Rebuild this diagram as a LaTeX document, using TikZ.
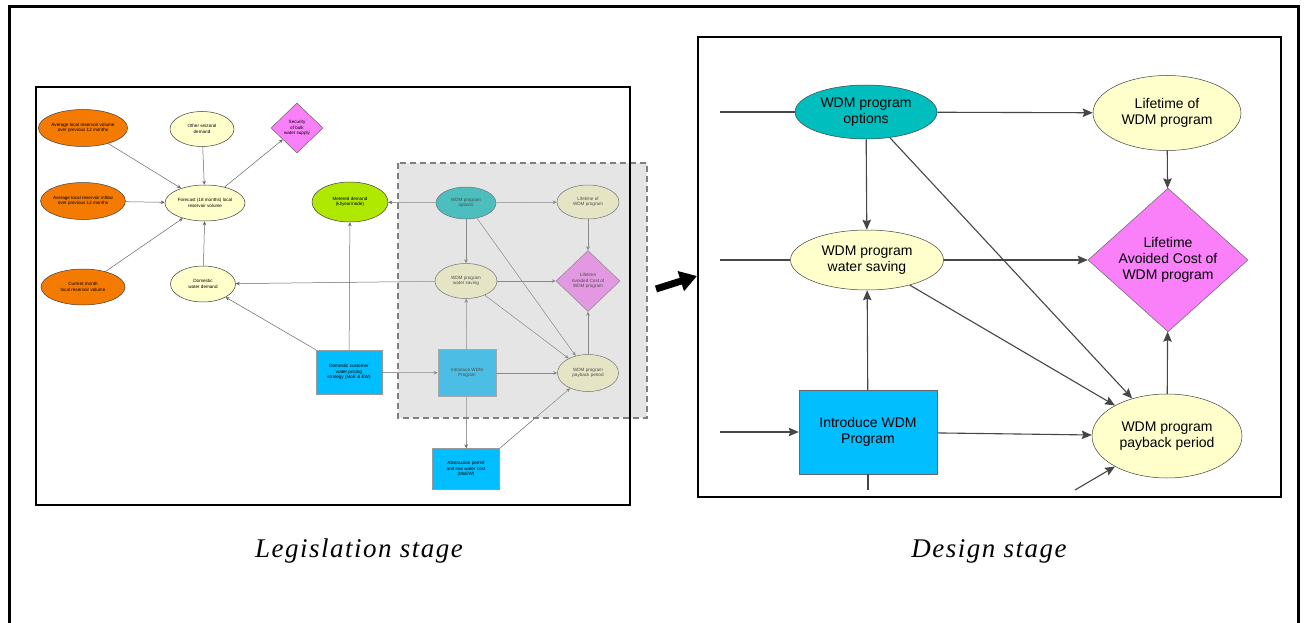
\documentclass[tikz,border=0pt]{standalone}
\usepackage{fontspec}
\setmainfont{Liberation Sans}
\newfontfamily\capfont[LetterSpace=5.5]{Liberation Serif}
\usetikzlibrary{shapes.geometric,arrows.meta}
\definecolor{cteal}{RGB}{0,190,190}
\definecolor{cyel}{RGB}{255,255,204}
\definecolor{corng}{RGB}{245,122,0}
\definecolor{cmag}{RGB}{250,128,250}
\definecolor{cgrn}{RGB}{175,232,0}
\definecolor{cblue}{RGB}{0,190,255}
\definecolor{cline}{RGB}{70,70,70}
\begin{document}
\begin{tikzpicture}[x=1pt,y=-1pt,
  tiny/.style={font=\fontsize{4.6}{5.4}\selectfont, align=center, inner sep=0pt},
  big/.style={font=\fontsize{14}{16}\selectfont, align=center, inner sep=0pt},
  ell/.style={ellipse, draw=black!75, line width=0.5pt},
  dia/.style={diamond, draw=black!60, line width=0.5pt},
  box/.style={rectangle, draw=black!40, line width=0.5pt},
  arrL/.style={draw=black!60, line width=0.5pt, -{Stealth[length=4pt,width=3.6pt]}},
  arrR/.style={draw=cline, line width=1.1pt, -{Stealth[length=10pt,width=8.5pt,inset=1.5pt]}},
  lineR/.style={draw=cline, line width=1.1pt},
  capt/.style={font=\capfont\itshape\fontsize{27}{31}\selectfont, inner sep=0pt}
]
\useasboundingbox (0,0) rectangle (1306,623);
\fill[white] (0,0) rectangle (1306,623);

% ---------------- left diagram ----------------
\node[ell, fill=corng, minimum width=84, minimum height=37, tiny] (o1) at (83,128) {Average local reservoir volume\\over previous 12 months};
\node[ell, fill=corng, minimum width=84, minimum height=37, tiny] (o2) at (83,201) {Average local reservoir inflow\\over previous 12 months};
\node[ell, fill=corng, minimum width=84, minimum height=36, tiny] (o3) at (83,287) {Current month\\local reservoir volume};
\node[ell, fill=cyel, minimum width=64, minimum height=35, tiny] (osd) at (202,129) {Other sectoral\\demand};
\node[ell, fill=cyel, minimum width=80, minimum height=36, tiny] (fc) at (205,203) {Forecast (18 months) local\\reservoir volume};
\node[dia, fill=cmag, minimum width=52, minimum height=50, tiny] (sec) at (297,128) {Security\\of bulk\\water supply};
\node[ell, fill=cyel, minimum width=65, minimum height=36, tiny] (dwd) at (203,284) {Domestic\\water demand};
\node[ell, fill=cgrn, minimum width=76, minimum height=40, tiny] (met) at (350,202) {Metered demand\\(kl/year/node)};
\node[ell, fill=cteal, minimum width=60, minimum height=32, tiny] (lopt) at (466,203) {WDM program\\options};
\node[ell, fill=cyel, minimum width=62, minimum height=34, tiny] (llife) at (588,202) {Lifetime of\\WDM program};
\node[ell, fill=cyel, minimum width=62, minimum height=35, tiny] (lws) at (466,281) {WDM program\\water saving};
\node[dia, fill=cmag, minimum width=64, minimum height=61, tiny] (ldia) at (588,281) {Lifetime\\Avoided Cost of\\WDM program};
\node[box, fill=cblue, minimum width=58, minimum height=47, tiny] (lintro) at (467,373) {Introduce WDM\\Program};
\node[ell, fill=cyel, minimum width=61, minimum height=37, tiny] (lpay) at (588,373) {WDM program\\payback period};
\node[box, fill=cblue, minimum width=66, minimum height=44, tiny] (dcp) at (349,372) {Domestic customer\\water pricing\\strategy (MoE \& EW)};
\node[box, fill=cblue, minimum width=67, minimum height=41, tiny] (abs) at (466,469) {Abstraction permit\\and raw water cost\\(MoEW)};

\draw[arrL] (o1) -- (fc);
\draw[arrL] (o2) -- (fc);
\draw[arrL] (o3) -- (fc);
\draw[arrL] (osd) -- (fc);
\draw[arrL] (fc) -- (sec);
\draw[arrL] (dwd) -- (fc);
\draw[arrL] (lopt) -- (met);
\draw[arrL] (lopt) -- (llife);
\draw[arrL] (lopt) -- (lws);
\draw[arrL] (lopt) -- (lpay);
\draw[arrL] (lws) -- (dwd);
\draw[arrL] (lws) -- (ldia);
\draw[arrL] (lws) -- (lpay);
\draw[arrL] (llife) -- (ldia);
\draw[arrL] (lpay) -- (ldia);
\draw[arrL] (dcp) -- (met);
\draw[arrL] (dcp.north west) -- (dwd);
\draw[arrL] (dcp) -- (lintro);
\draw[arrL] (lintro) -- (lws);
\draw[arrL] (lintro) -- (lpay);
\draw[arrL] (lintro) -- (abs);
\draw[arrL] (abs.north east) -- (lpay);

% grey overlay region
\fill[black!25, opacity=0.4] (398,163) rectangle (647,418);
\draw[black!50, line width=1.2pt, dash pattern=on 6pt off 4pt] (398,163) rectangle (647,418);

\draw[line width=2pt] (36,87) rectangle (630,505);

% ---------------- big arrow ----------------
\coordinate (bas) at (656,289);
\coordinate (bae) at (697,276);
\draw[line width=7pt, -{Triangle[length=17pt,width=20pt]}] (bas) -- (bae);

% ---------------- right diagram ----------------
\node[ell, fill=cteal, minimum width=142, minimum height=54, big] (ropt) at (866,112) {WDM program\\options};
\node[ell, fill=cyel, minimum width=153, minimum height=60, big] (rws) at (867,260) {WDM program\\water saving};
\node[ell, fill=cyel, minimum width=148, minimum height=75, big] (rlife) at (1167,113) {Lifetime of\\WDM program};
\node[dia, fill=cmag, minimum width=160, minimum height=120, big] (rdia) at (1168,260) {Lifetime\\Avoided Cost of\\WDM program};
\node[ell, fill=cyel, minimum width=150, minimum height=84, big] (rpay) at (1167,436) {WDM program\\payback period};
\node[box, draw=black!60, fill=cblue, minimum width=138, minimum height=84, big] (rintro) at (868,432) {Introduce WDM\\Program};

\coordinate (in1) at (720,112);
\coordinate (in2) at (720,260);
\coordinate (in3) at (720,432);
\coordinate (in4) at (1075,490);
\coordinate (out1) at (868,490);

\draw[lineR] (in1) -- (ropt.west);
\draw[lineR] (in2) -- (rws.west);
\draw[arrR] (in3) -- (rintro.west);
\draw[arrR] (ropt) -- (rlife);
\draw[arrR] (ropt) -- (rws);
\draw[arrR] (ropt) -- (rpay);
\draw[arrR] (rws) -- (rdia);
\draw[arrR] (rws) -- (rpay);
\draw[arrR] (rlife) -- (rdia);
\draw[arrR] (rpay) -- (rdia);
\draw[arrR] (rintro) -- (rws);
\draw[arrR] (rintro) -- (rpay);
\draw[lineR] (rintro.south) -- (out1);
\draw[arrR] (in4) -- (rpay);

\draw[line width=2.5pt] (698,37) rectangle (1281,497);

% ---------------- captions ----------------
\node[capt] (cap1) at (359,551) {Legislation stage};
\node[capt] (cap2) at (989,551) {Design stage};

% outer frame
\draw[line width=3pt] (9.5,6.5) rectangle (1298.5,640);
\end{tikzpicture}
\end{document}
